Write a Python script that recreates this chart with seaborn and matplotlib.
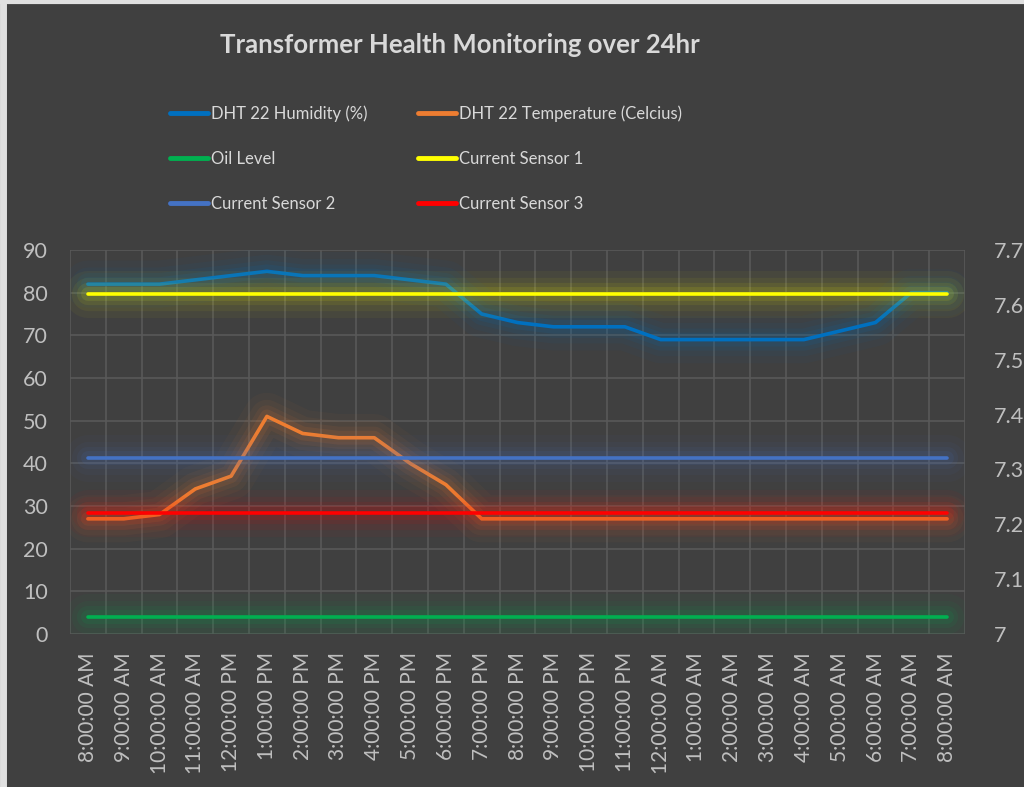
import matplotlib.pyplot as plt
import matplotlib.patheffects as pe
from matplotlib.lines import Line2D
import numpy as np
import pandas as pd
import seaborn as sns

time_labels = ['8:00:00 AM', '9:00:00 AM', '10:00:00 AM', '11:00:00 AM', '12:00:00 PM',
               '1:00:00 PM', '2:00:00 PM', '3:00:00 PM', '4:00:00 PM', '5:00:00 PM',
               '6:00:00 PM', '7:00:00 PM', '8:00:00 PM', '9:00:00 PM', '10:00:00 PM',
               '11:00:00 PM', '12:00:00 AM', '1:00:00 AM', '2:00:00 AM', '3:00:00 AM',
               '4:00:00 AM', '5:00:00 AM', '6:00:00 AM', '7:00:00 AM', '8:00:00 AM']

humidity = [82, 82, 82, 83, 84, 85, 84, 84, 84, 83, 82, 75, 73,
            72, 72, 72, 69, 69, 69, 69, 69, 71, 73, 80, 80]
temperature = [27, 27, 28, 34, 37, 51, 47, 46, 46, 40, 35, 27, 27,
               27, 27, 27, 27, 27, 27, 27, 27, 27, 27, 27, 27]
oil_level = [4, 4, 4, 4, 4, 4, 4, 4, 4, 4, 4, 4, 4,
             4, 4, 4, 4, 4, 4, 4, 4, 4, 4, 4, 4]
# current sensors sit on the secondary axis
current_1 = [7.62, 7.62, 7.62, 7.62, 7.62, 7.62, 7.62, 7.62, 7.62, 7.62, 7.62, 7.62, 7.62,
             7.62, 7.62, 7.62, 7.62, 7.62, 7.62, 7.62, 7.62, 7.62, 7.62, 7.62, 7.62]
current_2 = [7.32, 7.32, 7.32, 7.32, 7.32, 7.32, 7.32, 7.32, 7.32, 7.32, 7.32, 7.32, 7.32,
             7.32, 7.32, 7.32, 7.32, 7.32, 7.32, 7.32, 7.32, 7.32, 7.32, 7.32, 7.32]
current_3 = [7.22, 7.22, 7.22, 7.22, 7.22, 7.22, 7.22, 7.22, 7.22, 7.22, 7.22, 7.22, 7.22,
             7.22, 7.22, 7.22, 7.22, 7.22, 7.22, 7.22, 7.22, 7.22, 7.22, 7.22, 7.22]

BG = '#404040'
TXT = '#d9d9d9'
GRID = '#595959'


def glow(color):
    effects = [pe.Stroke(linewidth=w, foreground=color, alpha=a)
               for w, a in [(34, 0.04), (24, 0.05), (16, 0.07), (10, 0.1)]]
    return effects + [pe.Normal()]


def main():
    sns.set_style('dark')
    plt.rcParams['font.family'] = ['Lato', 'DejaVu Sans']

    df = pd.DataFrame({
        'hour': np.arange(len(time_labels)),
        'humidity': humidity,
        'temperature': temperature,
        'oil': oil_level,
        'cur1': current_1,
        'cur2': current_2,
        'cur3': current_3,
    })

    fig = plt.figure(figsize=(10.24, 7.87), dpi=100, facecolor=BG)
    ax = fig.add_axes([70 / 1024, 1 - 634 / 787, 895 / 1024, 384 / 787])
    ax.set_facecolor(BG)
    ax2 = ax.twinx()

    primary = [('humidity', 'DHT 22 Humidity (%)', '#0070C0'),
               ('temperature', 'DHT 22 Temperature (Celcius)', '#ED7D31'),
               ('oil', 'Oil Level', '#00B050')]
    secondary = [('cur1', 'Current Sensor 1', '#FFFF00'),
                 ('cur2', 'Current Sensor 2', '#4472C4'),
                 ('cur3', 'Current Sensor 3', '#FF0000')]

    for target, series in [(ax, primary), (ax2, secondary)]:
        for col, label, color in series:
            sns.lineplot(data=df, x='hour', y=col, ax=target, color=color, lw=2.6,
                         label=label, path_effects=glow(color), legend=False,
                         solid_capstyle='round', solid_joinstyle='round')
        if target.get_legend():
            target.get_legend().remove()

    ax.set_xlim(-0.5, len(time_labels) - 0.5)
    ax.set_ylim(0, 90)
    ax.set_yticks(np.arange(0, 91, 10))
    ax2.set_ylim(7, 7.7)
    ax2.set_yticks(np.arange(7, 7.71, 0.1))
    ax2.set_yticklabels([f'{v:g}' for v in np.round(np.arange(7, 7.71, 0.1), 1)])

    ax.set_xticks(np.arange(len(time_labels)))
    ax.set_xticklabels(time_labels, rotation=90)
    ax.set_xticks(np.arange(-0.5, len(time_labels)), minor=True)
    ax.grid(False)
    ax2.grid(False)
    ax.yaxis.grid(True, color=GRID, lw=1.2)
    ax.xaxis.grid(True, which='minor', color=GRID, lw=1.2)
    ax.set_axisbelow(True)

    for a in (ax, ax2):
        a.set_xlabel('')
        a.set_ylabel('')
        for s in a.spines.values():
            s.set_visible(False)
        a.tick_params(which='both', length=0, colors='#bfbfbf', labelsize=15.5)
    ax.tick_params(axis='y', pad=16)
    ax2.tick_params(axis='y', pad=21)
    ax.tick_params(axis='x', pad=13, labelsize=15)

    handles = {}
    for a in (ax, ax2):
        for h, l in zip(*a.get_legend_handles_labels()):
            handles[l] = h
    cols = [['DHT 22 Humidity (%)', 'Oil Level', 'Current Sensor 2'],
            ['DHT 22 Temperature (Celcius)', 'Current Sensor 1', 'Current Sensor 3']]
    for x0, names in zip([163, 411], cols):
        leg = fig.legend([handles[n] for n in names], names, loc='upper left',
                         bbox_to_anchor=(x0 / 1024, 1 - 99 / 787), frameon=False,
                         fontsize=12, labelcolor=TXT, handlelength=2.3,
                         handletextpad=0.2, labelspacing=1.72, borderaxespad=0)
        for line in leg.get_lines():
            line.set_path_effects([])
            line.set_linewidth(3.5)

    fig.text(460 / 1024, 1 - 45 / 787, 'Transformer Health Monitoring over 24hr',
             ha='center', va='center', color=TXT, fontsize=18.5, fontweight='bold')

    # light frame on the top and left edges
    fig.add_artist(Line2D([0.003, 0.003], [0, 1], transform=fig.transFigure,
                          color='#e0e0e0', lw=5))
    fig.add_artist(Line2D([0, 1], [0.998, 0.998], transform=fig.transFigure,
                          color='#e0e0e0', lw=3))

    fig.savefig('out.png', dpi=100, facecolor=BG)


if __name__ == '__main__':
    main()
